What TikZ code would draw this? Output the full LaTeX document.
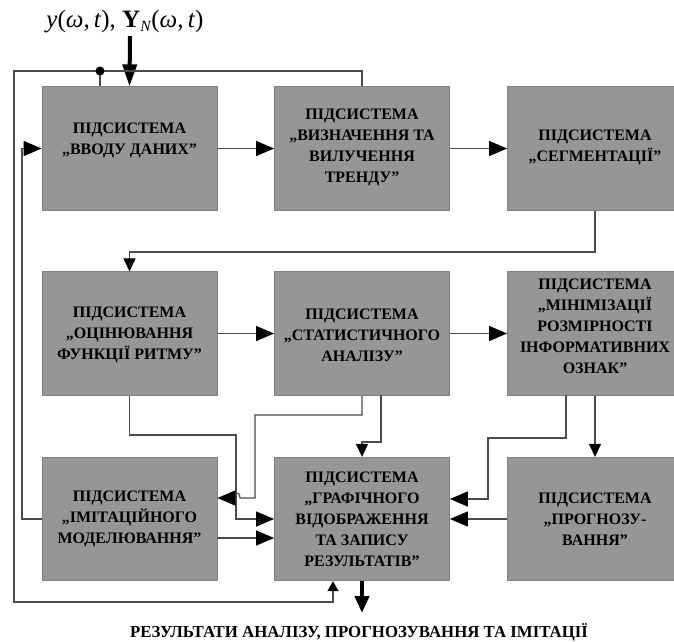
\documentclass[tikz,border=0pt]{standalone}
\usepackage{fontspec}
\setmainfont{Liberation Serif}
\usetikzlibrary{arrows.meta}
\definecolor{boxfill}{RGB}{150,150,150}
\definecolor{boxedge}{RGB}{128,128,128}
\definecolor{linegray}{RGB}{75,75,75}
\tikzset{
  box/.style={draw=boxedge, fill=boxfill, minimum width=175pt, minimum height=123.5pt, inner sep=0pt, line width=0.8pt},
  boxtext/.style={font=\bfseries\fontsize{16}{21}\selectfont, align=center, inner sep=0pt},
  conn/.style={draw=linegray, line width=1.2pt},
  harr/.style={conn, -{Triangle[length=18pt,width=15pt,black]}},
  varr/.style={conn, -{Triangle[length=13pt,width=12pt,black]}},
  tarr/.style={conn, -{Triangle[length=10pt,width=11pt,black]}},
  thick arr/.style={draw=black, line width=4pt, -{Triangle[length=22pt,width=14pt,black]}},
}
\begin{document}
\begin{tikzpicture}[x=1pt,y=-1pt]
\clip (0,0) rectangle (674,641);
\fill[white] (0,0) rectangle (674,641);
% boxes
\node[box] (b1) at (129.5,148.5) {};
\node[boxtext] (t1) at (129.5,140) {ПІДСИСТЕМА\\„ВВОДУ ДАНИХ”};
\node[box] (b2) at (362,148.5) {};
\node[boxtext] (t2) at (362,147.5) {ПІДСИСТЕМА\\„ВИЗНАЧЕННЯ ТА\\ВИЛУЧЕННЯ\\ТРЕНДУ”};
\node[box] (b3) at (595,148.5) {};
\node[boxtext] (t3) at (595,147) {ПІДСИСТЕМА\\„СЕГМЕНТАЦІЇ”};
\node[box] (b4) at (129.5,333.5) {};
\node[boxtext] (t4) at (129.5,335) {ПІДСИСТЕМА\\„ОЦІНЮВАННЯ\\ФУНКЦІЇ РИТМУ”};
\node[box] (b5) at (362,333.5) {};
\node[boxtext] (t5) at (362,335) {ПІДСИСТЕМА\\„СТАТИСТИЧНОГО\\АНАЛІЗУ”};
\node[box] (b6) at (595,333.5) {};
\node[boxtext] (t6) at (595,326.5) {ПІДСИСТЕМА\\„МІНІМІЗАЦІЇ\\РОЗМІРНОСТІ\\ІНФОРМАТИВНИХ\\ОЗНАК”};
\node[box] (b7) at (129.5,519) {};
\node[boxtext] (t7) at (129.5,519) {ПІДСИСТЕМА\\„ІМІТАЦІЙНОГО\\МОДЕЛЮВАННЯ”};
\node[box] (b8) at (362,519) {};
\node[boxtext] (t8) at (362,519) {ПІДСИСТЕМА\\„ГРАФІЧНОГО\\ВІДОБРАЖЕННЯ\\ТА ЗАПИСУ\\РЕЗУЛЬТАТІВ”};
\node[box] (b9) at (595,519) {};
\node[boxtext] (t9) at (595,519) {ПІДСИСТЕМА\\„ПРОГНОЗУ-\\ВАННЯ”};
% input / output
\node[font=\fontsize{25}{29}\selectfont, inner sep=0pt] (inlbl) at (125,22)
  {\textit{y}(\textit{ω},\,\textit{t}), \textbf{Y}\raisebox{-4pt}{\fontsize{15.5}{15.5}\selectfont\textit{N}}(\textit{ω},\,\textit{t})};
\coordinate (inp) at (130,36);
\draw[thick arr] (inp) -- (b1.north);
\node[font=\bfseries\fontsize{16.8}{20}\selectfont, inner sep=0pt] (outlbl) at (359,632)
  {РЕЗУЛЬТАТИ АНАЛІЗУ, ПРОГНОЗУВАННЯ ТА ІМІТАЦІЇ};
\coordinate (outp) at (362,613);
\draw[draw=black, line width=4pt, -{Triangle[length=17pt,width=14pt,black]}] (b8.south) -- (outp);
% horizontal flow
\draw[harr] (b1.east) -- (b2.west);
\draw[harr] (b2.east) -- (b3.west);
\draw[harr] (b4.east) -- (b5.west);
\draw[harr] (b5.east) -- (b6.west);
\draw[harr] (b9.west) -- (b8.east);
\draw[harr] ([yshift=-19pt]b7.east) -- ([yshift=-19pt]b8.west);
% segmentation -> rhythm
\draw[varr] (b3.south) -- (595,252) -| (b4.north);
% rhythm -> graphic
\draw[harr] (b4.south) |- (236,435) |- (b8.west);
% statistic -> imitation (with hop)
\draw[harr] (b5.south) -- (362,415) -- (255,415) -- (255,498) -- (240,498)
  .. controls (240,491) and (232,491) .. (232,498) -- ([yshift=21pt]b7.east);
% statistic -> graphic top
\draw[varr] (381,395) -- (381,442) -| (b8.north);
% minimization -> graphic
\draw[harr] (566,395) -- (566,438) -- (488,438) -- (488,499) -- ([yshift=20pt]b8.east);
% minimization -> forecasting
\draw[varr] (b6.south) -- (b9.north);
% imitation -> input
\draw[harr] (b7.west) -- (22,519) |- (b1.west);
% big loop
\draw[tarr] (b2.north) -- (362,71) -- (14,71) -- (14,602) -| ([xshift=-29pt]b8.south);
\coordinate (dot) at (100,71);
\draw[conn] (dot) -- ([xshift=-29.5pt]b1.north);
\fill[black] (dot) circle[radius=4.5pt];
\end{tikzpicture}
\end{document}
